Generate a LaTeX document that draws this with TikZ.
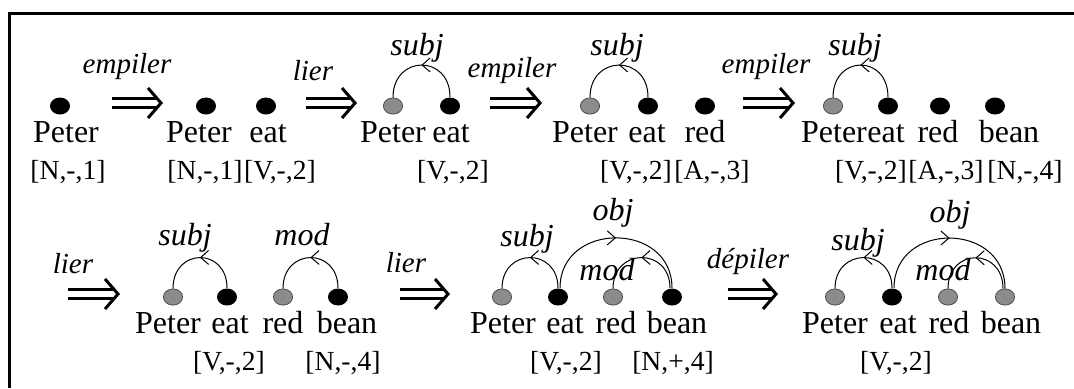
\documentclass[tikz,border=0pt]{standalone}
\usepackage{fontspec}
\setmainfont{Liberation Serif}
\usetikzlibrary{arrows.meta,shapes.geometric,decorations.markings}

\begin{document}
\begin{tikzpicture}[x=0.5pt, y=-0.5pt,
  bdot/.style={ellipse, fill=black, inner sep=0pt,
    minimum width=10pt, minimum height=8.5pt},
  gdot/.style={ellipse, draw=black!70, fill=gray!90, line width=0.4pt,
    inner sep=0pt, minimum width=9.6pt, minimum height=8.1pt},
  word/.style={anchor=base, inner sep=0pt, font=\fontsize{16}{18}\selectfont},
  feat/.style={anchor=base, inner sep=0pt, font=\fontsize{13.8}{16}\selectfont},
  rel/.style={anchor=base, inner sep=0pt, font=\fontsize{16}{18}\selectfont\itshape},
  act/.style={anchor=base, inner sep=0pt, font=\fontsize{14.5}{16}\selectfont\itshape},
  impl/.style={line width=1.5pt, draw=white,
    -{Straight Barb[color=black, length=6.5pt, width=15pt]},
    preaction={draw=black, double=white, double distance=3.4pt,
      shorten >=2.8pt, -}},
  dep/.style={line width=0.5pt, postaction={decorate},
    decoration={markings, mark=at position 0.5 with
      {\arrow{Straight Barb[length=4pt, width=7pt, line width=0.5pt]}}}},
]
\useasboundingbox (0,0) rectangle (1074,388);
\draw[line width=1.5pt] (1074,13.5) -- (9.5,13.5) -- (9.5,388);

% ---- first row
\node[bdot] (d1p) at (60,106) {};
\node[word] (w1p) at (66,142) {Peter};
\node[feat] (f1p) at (68,179) {[N,-,1]};

\coordinate (a1s) at (112,103);
\coordinate (a1e) at (163,103);
\draw[impl] (a1s) -- (a1e);
\node[act] (l1) at (127,73) {empiler};

\node[bdot] (d2p) at (206,106) {};
\node[bdot] (d2e) at (266,106) {};
\node[word] (w2p) at (199,142) {Peter};
\node[word] (w2e) at (268,142) {eat};
\node[feat] (f2p) at (205,179) {[N,-,1]};
\node[feat] (f2e) at (280,179) {[V,-,2]};

\coordinate (a2s) at (306,103);
\coordinate (a2e) at (357,103);
\draw[impl] (a2s) -- (a2e);
\node[act] (l2) at (313,80) {lier};

\node[gdot] (d3p) at (393,106) {};
\node[bdot] (d3e) at (450,106) {};
\node[word] (w3p) at (393,142) {Peter};
\node[word] (w3e) at (451,142) {eat};
\node[feat] (f3e) at (453,179) {[V,-,2]};
\draw[dep] (d3e.north) .. controls +(0,-43) and +(0,-43) .. (d3p.north);
\node[rel] (r3s) at (417,55) {subj};

\coordinate (a3s) at (490,103);
\coordinate (a3e) at (542,103);
\draw[impl] (a3s) -- (a3e);
\node[act] (l3) at (512,77) {empiler};

\node[gdot] (d4p) at (590,106) {};
\node[bdot] (d4e) at (648,106) {};
\node[bdot] (d4r) at (705,106) {};
\node[word] (w4p) at (585,142) {Peter};
\node[word] (w4e) at (647,142) {eat};
\node[word] (w4r) at (705,142) {red};
\node[feat] (f4e) at (636,179) {[V,-,2]};
\node[feat] (f4r) at (712,179) {[A,-,3]};
\draw[dep] (d4e.north) .. controls +(0,-43) and +(0,-43) .. (d4p.north);
\node[rel] (r4s) at (617,55) {subj};

\coordinate (a4s) at (743,103);
\coordinate (a4e) at (795,103);
\draw[impl] (a4s) -- (a4e);
\node[act] (l4) at (766,73) {empiler};

\node[gdot] (d5p) at (833,106) {};
\node[bdot] (d5e) at (888,106) {};
\node[bdot] (d5r) at (940,106) {};
\node[bdot] (d5b) at (995,106) {};
\node[word] (w5p) at (834,142) {Peter};
\node[word] (w5e) at (886,142) {eat};
\node[word] (w5r) at (938,142) {red};
\node[word] (w5b) at (1009,142) {bean};
\node[feat] (f5e) at (871,179) {[V,-,2]};
\node[feat] (f5r) at (946,179) {[A,-,3]};
\node[feat] (f5b) at (1025,179) {[N,-,4]};
\draw[dep] (d5e.north) .. controls +(0,-43) and +(0,-43) .. (d5p.north);
\node[rel] (r5s) at (855,55) {subj};

% ---- second row
\coordinate (a5s) at (68,294);
\coordinate (a5e) at (120,294);
\draw[impl] (a5s) -- (a5e);
\node[act] (l5) at (73,273) {lier};

\node[gdot] (d6p) at (173,297) {};
\node[bdot] (d6e) at (227,297) {};
\node[gdot] (d6r) at (283,297) {};
\node[bdot] (d6b) at (338,297) {};
\node[word] (w6p) at (168,333) {Peter};
\node[word] (w6e) at (230,333) {eat};
\node[word] (w6r) at (283,333) {red};
\node[word] (w6b) at (347,333) {bean};
\node[feat] (f6e) at (229,370) {[V,-,2]};
\node[feat] (f6b) at (343,370) {[N,-,4]};
\draw[dep] (d6e.north) .. controls +(0,-41) and +(0,-41) .. (d6p.north);
\draw[dep] (d6b.north) .. controls +(0,-41) and +(0,-41) .. (d6r.north);
\node[rel] (r6s) at (185,245) {subj};
\node[rel] (r6m) at (302,245) {mod};

\coordinate (a6s) at (400,294);
\coordinate (a6e) at (450,294);
\draw[impl] (a6s) -- (a6e);
\node[act] (l6) at (406,272) {lier};

\node[gdot] (d7p) at (502,297) {};
\node[bdot] (d7e) at (558,297) {};
\node[gdot] (d7r) at (613,297) {};
\node[bdot] (d7b) at (672,297) {};
\node[word] (w7p) at (503,333) {Peter};
\node[word] (w7e) at (565,333) {eat};
\node[word] (w7r) at (616,333) {red};
\node[word] (w7b) at (677,333) {bean};
\node[feat] (f7e) at (566,370) {[V,-,2]};
\node[feat] (f7b) at (673,370) {[N,+,4]};
\node[rel] (r7s) at (527,246) {subj};
\node[rel] (r7o) at (613,220) {obj};
\node[rel] (r7m) at (607,280) {mod};
\draw[dep] (d7e.north) .. controls +(0,-41) and +(0,-41) .. (d7p.north);
\draw[dep] ([xshift=1pt]d7e.north) .. controls +(0,-67) and +(0,-67) .. (d7b.north);
\draw[dep] ([xshift=-1pt]d7b.north) .. controls +(0,-41) and +(0,-41) .. (d7r.north);

\coordinate (a7s) at (728,294);
\coordinate (a7e) at (778,294);
\draw[impl] (a7s) -- (a7e);
\node[act] (l7) at (748,268) {dépiler};

\node[gdot] (d8p) at (835,297) {};
\node[bdot] (d8e) at (892,297) {};
\node[gdot] (d8r) at (948,297) {};
\node[gdot] (d8b) at (1005,297) {};
\node[word] (w8p) at (835,333) {Peter};
\node[word] (w8e) at (898,333) {eat};
\node[word] (w8r) at (949,333) {red};
\node[word] (w8b) at (1011,333) {bean};
\node[feat] (f8e) at (896,370) {[V,-,2]};
\node[rel] (r8s) at (858,250) {subj};
\node[rel] (r8o) at (950,222) {obj};
\node[rel] (r8m) at (943,280) {mod};
\draw[dep] (d8e.north) .. controls +(0,-41) and +(0,-41) .. (d8p.north);
\draw[dep] ([xshift=1pt]d8e.north) .. controls +(0,-67) and +(0,-67) .. (d8b.north);
\draw[dep] ([xshift=-1pt]d8b.north) .. controls +(0,-41) and +(0,-41) .. (d8r.north);
\end{tikzpicture}
\end{document}
